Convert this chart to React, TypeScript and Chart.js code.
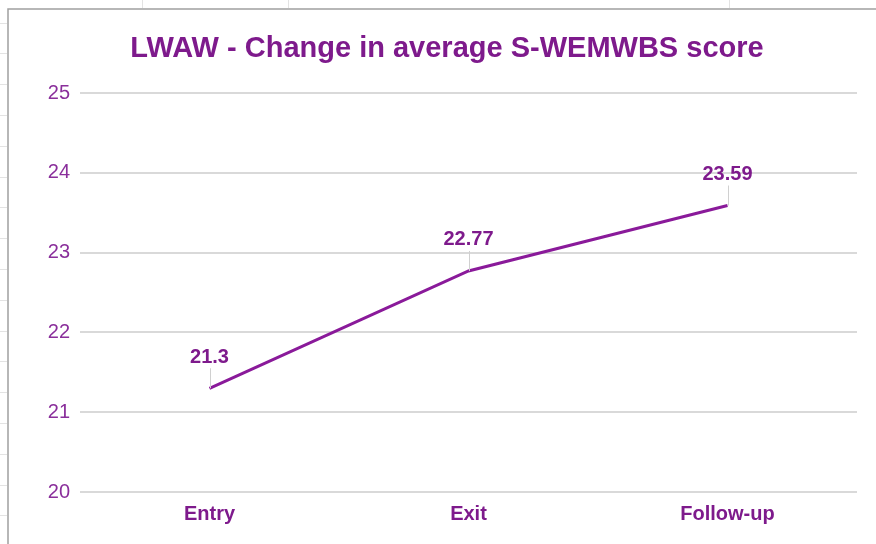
import React, { useEffect, useRef } from "react";
import { Chart, registerables } from "chart.js";

Chart.register(...registerables);

const categories = ["Entry", "Exit", "Follow-up"];
const scores = [21.3, 22.77, 23.59];
const yTicks = [20, 21, 22, 23, 24, 25];
const titleText = "LWAW - Change in average S-WEMWBS score";

const PURPLE = "#7e1a8c";
const TICK = "#8a2f9b";
const LINE = "#8a1a9a";
const FONT = "'Liberation Sans', Arial, sans-serif";

const sheetPlugin = {
  id: "sheet",
  beforeDraw(chart: any) {
    const ctx = chart.ctx;
    ctx.save();
    ctx.fillStyle = "#ffffff";
    ctx.fillRect(0, 0, chart.width, chart.height);
    ctx.strokeStyle = "#e3e3e3";
    ctx.lineWidth = 1;
    for (let y = 22.5; y < chart.height; y += 30.8) {
      ctx.beginPath();
      ctx.moveTo(0, Math.round(y) + 0.5);
      ctx.lineTo(7, Math.round(y) + 0.5);
      ctx.stroke();
    }
    [142, 288, 729].forEach((x) => {
      ctx.beginPath();
      ctx.moveTo(x + 0.5, 0);
      ctx.lineTo(x + 0.5, 8);
      ctx.stroke();
    });
    ctx.strokeStyle = "#a0a0a0";
    ctx.lineWidth = 1.5;
    ctx.beginPath();
    ctx.moveTo(8, chart.height);
    ctx.lineTo(8, 9);
    ctx.lineTo(chart.width, 9);
    ctx.stroke();
    // title
    ctx.font = `bold 29px ${FONT}`;
    ctx.fillStyle = PURPLE;
    ctx.textAlign = "center";
    ctx.textBaseline = "middle";
    ctx.fillText(titleText, 447, 49);
    ctx.restore();
  },
};

const labelPlugin = {
  id: "valueLabels",
  afterDatasetsDraw(chart: any) {
    const ctx = chart.ctx;
    const meta = chart.getDatasetMeta(0);
    ctx.save();
    meta.data.forEach((pt: any, i: number) => {
      const x = pt.x;
      const y = pt.y;
      const labelY = y - 31;
      ctx.strokeStyle = "#d0d0d0";
      ctx.lineWidth = 1;
      ctx.beginPath();
      ctx.moveTo(Math.round(x) + 0.5, y);
      ctx.lineTo(Math.round(x) + 0.5, labelY + 11);
      ctx.stroke();
      ctx.font = `bold 20px ${FONT}`;
      ctx.fillStyle = PURPLE;
      ctx.textAlign = "center";
      ctx.textBaseline = "middle";
      ctx.fillText(String(scores[i]), x, labelY);
    });
    ctx.restore();
  },
};

export default function App() {
  const ref = useRef<HTMLCanvasElement | null>(null);
  useEffect(() => {
    if (!ref.current) return;
    const chart = new Chart(ref.current, {
      type: "line",
      data: {
        labels: categories,
        datasets: [
          {
            data: scores,
            borderColor: LINE,
            borderWidth: 3,
            pointRadius: 0,
            tension: 0,
          },
        ],
      },
      options: {
        animation: false,
        responsive: false,
        layout: { padding: { left: 8, right: 19, top: 93, bottom: 0 } },
        plugins: {
          legend: { display: false },
          tooltip: { enabled: false },
          title: { display: false },
        },
        scales: {
          x: {
            offset: true,
            grid: { display: false, drawTicks: false },
            border: { display: false },
            ticks: {
              color: PURPLE,
              font: { family: FONT, size: 20, weight: "bold" },
              padding: 10,
            },
            afterFit(scale: any) {
              scale.height = 52;
            },
          },
          y: {
            min: 20,
            max: 25,
            afterBuildTicks(scale: any) {
              scale.ticks = yTicks.map((v) => ({ value: v }));
            },
            grid: { color: "#d9d9d9", lineWidth: 2, drawTicks: false },
            border: { display: false },
            ticks: {
              color: TICK,
              font: { family: FONT, size: 20 },
              padding: 10,
            },
            afterFit(scale: any) {
              scale.width = 72;
            },
          },
        },
      },
      plugins: [sheetPlugin, labelPlugin],
    } as any);
    return () => chart.destroy();
  }, []);
  return (
    <div style={{ position: "fixed", left: 0, top: 0, width: 876, height: 544 }}>
      <canvas ref={ref} width={876} height={544} style={{ display: "block" }} />
    </div>
  );
}
